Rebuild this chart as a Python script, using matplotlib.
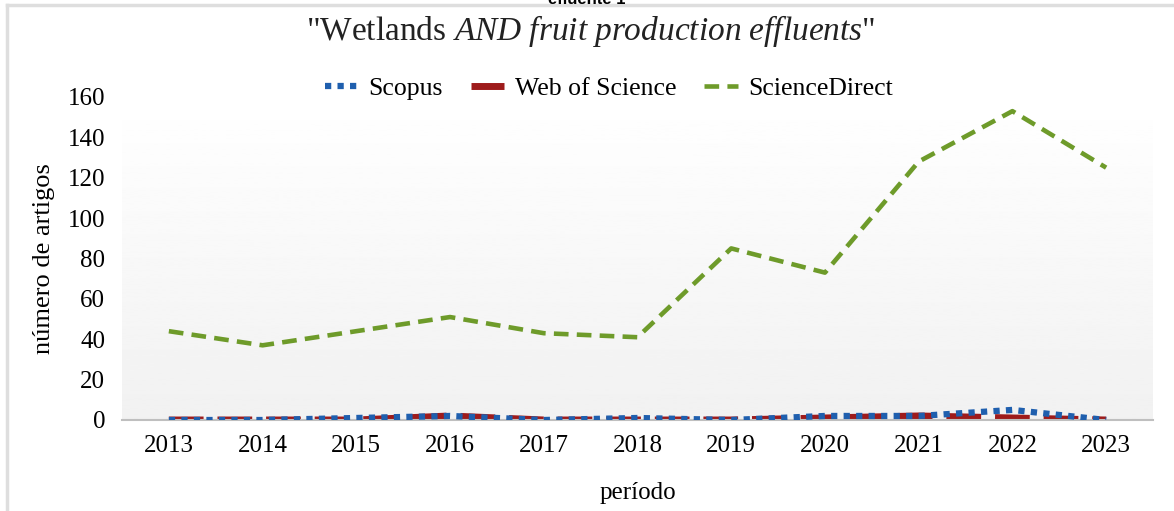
import numpy as np
import matplotlib.pyplot as plt
from matplotlib.lines import Line2D

plt.rcParams['font.family'] = 'Liberation Serif'
plt.rcParams['mathtext.fontset'] = 'custom'
plt.rcParams['mathtext.rm'] = 'Liberation Serif'
plt.rcParams['mathtext.it'] = 'Liberation Serif:italic'

anos = ['2013', '2014', '2015', '2016', '2017', '2018', '2019', '2020', '2021', '2022', '2023']
scopus = [0, 0, 1, 2, 0, 1, 0, 2, 2, 5, 0]
web_of_science = [0, 0, 0, 2, 0, 0, 0, 1, 2, 1, 0]
science_direct = [44, 37, 44, 51, 43, 41, 85, 73, 128, 153, 125]
yticks = [0, 20, 40, 60, 80, 100, 120, 140, 160]

fig = plt.figure(figsize=(11.74, 5.11), dpi=100)
ax = fig.add_axes([122 / 1174, 1 - 420 / 511, 1031 / 1174, 323 / 511])

x = np.arange(len(anos))

# fundo em degrade
grad = np.linspace(1.0, 0.945, 256).reshape(-1, 1)
ax.imshow(grad, cmap='gray', vmin=0, vmax=1, aspect='auto',
          extent=(-0.5, len(anos) - 0.5, 0, 160), zorder=0)

ax.plot(x, scopus, color='#1f5fae', lw=4.5, linestyle=(0, (1, 1)),
        solid_capstyle='butt', dash_capstyle='butt', label='Scopus', zorder=3)
ax.plot(x, web_of_science, color='#9e1b1b', lw=5, linestyle=(0, (5, 2)),
        dash_capstyle='butt', label='Web of Science', zorder=2)
ax.plot(x, science_direct, color='#6e9b2a', lw=3.3, linestyle=(0, (3.2, 1.8)),
        dash_capstyle='butt', label='ScienceDirect', zorder=4)

ax.set_xlim(-0.5, len(anos) - 0.5)
ax.set_ylim(0, 160)
ax.set_xticks(x)
ax.set_xticklabels(anos)
ax.set_yticks(yticks)
ax.tick_params(length=0, labelsize=18, pad=12)
ax.tick_params(axis='x', pad=11)
for s in ['top', 'right', 'left']:
    ax.spines[s].set_visible(False)
ax.spines['bottom'].set_color('#bfbfbf')
ax.spines['bottom'].set_linewidth(1.5)

ax.set_ylabel('número de artigos', fontsize=19, labelpad=9)
ax.set_xlabel('período', fontsize=18, labelpad=18)

leg = ax.legend(loc='center', bbox_to_anchor=(0.472, 1.027), ncol=3, frameon=False,
                fontsize=18.5, handlelength=1.3, handletextpad=0.4, columnspacing=1.1)

fig.text(0.503, 1 - 31 / 511, r'"Wetlands $\mathit{AND\ fruit\ production\ effluents}$"',
         ha='center', va='center', fontsize=24, color='#222222')

fig.text(0.5, 1.0, 'efluente 1', ha='center', va='center', fontsize=12,
         family='Liberation Sans', fontweight='bold')

# moldura
fig.add_artist(Line2D([7 / 1174, 1], [1 - 5 / 511, 1 - 5 / 511], color='#dedede', lw=2.5,
                      transform=fig.transFigure))
fig.add_artist(Line2D([7 / 1174, 7 / 1174], [0, 1 - 5 / 511], color='#dedede', lw=2.5,
                      transform=fig.transFigure))

fig.savefig('out.png', dpi=100)
